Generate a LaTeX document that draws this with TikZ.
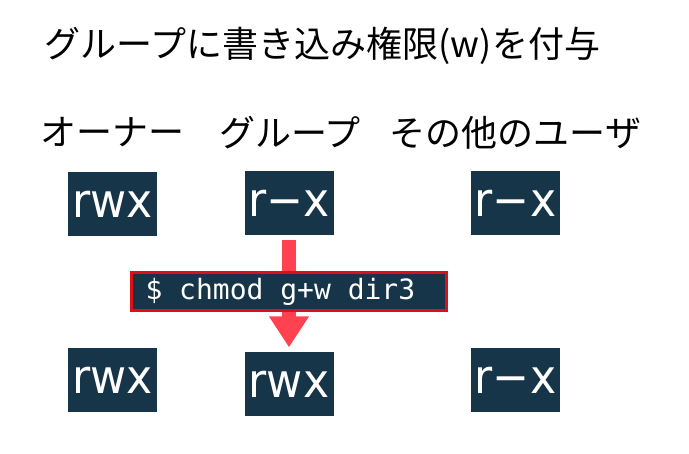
\documentclass[tikz,border=0pt]{standalone}
\usepackage{fontspec}
\setmainfont{DejaVu Sans}
\newfontfamily\jpfont{Noto Sans CJK JP}
\newfontfamily\permfont{DejaVu Sans}
\newfontfamily\cmdfont{DejaVu Sans Mono}
\usetikzlibrary{arrows.meta}
\definecolor{boxdark}{HTML}{173549}
\definecolor{arrowred}{HTML}{FF4150}
\definecolor{borderred}{HTML}{DD1018}
\tikzset{
  jptext/.style={font=\jpfont\fontsize{36pt}{40pt}\selectfont, inner sep=0pt, text=black},
  permbox/.style={fill=boxdark, text=white, minimum width=89pt, minimum height=64pt, inner sep=0pt,
    font=\permfont\fontsize{47pt}{50pt}\selectfont},
  cmdbox/.style={fill=boxdark, draw=borderred, line width=3pt, text=white, inner xsep=14pt, inner ysep=0pt,
    text width=287pt, minimum height=38pt, align=left, font=\cmdfont\fontsize{28pt}{30pt}\selectfont},
  bigarrow/.style={draw=arrowred, line width=14pt, -{Triangle[width=38pt,length=31pt]}, shorten <=5pt, shorten >=5pt}
}
\newcommand{\perm}[1]{\scalebox{0.94}[1]{#1}}
\newcommand{\msp}{\hspace*{0.602em}}
\begin{document}
\begin{tikzpicture}[x=1pt,y=-1pt]
\useasboundingbox[fill=white] (0,0) rectangle (689,454);
\node[jptext] (title) at (322.5,46) {グループに書き込み権限(w)を付与};
\node[jptext] (hOwner) at (112.5,132.5) {オーナー};
\node[jptext] (hGroup) at (290,132.5) {グループ};
\node[jptext] (hOther) at (515.5,132.5) {その他のユーザ};
\node[permbox] (tOwner) at (112.5,204.5) {\perm{rwx}};
\node[permbox] (tGroup) at (289,203) {\perm{r−x}};
\node[permbox] (tOther) at (515.5,203.5) {\perm{r−x}};
\node[permbox] (bOwner) at (112.5,380.5) {\perm{rwx}};
\node[permbox] (bGroup) at (289,384.5) {\perm{rwx}};
\node[permbox] (bOther) at (515.5,380.5) {\perm{r−x}};
\draw[bigarrow] (tGroup.south) -- (bGroup.north);
\node[cmdbox] (cmd) at (289,291.5) {\$\msp{}chmod\msp{}g+w\msp{}dir3};
\end{tikzpicture}
\end{document}
